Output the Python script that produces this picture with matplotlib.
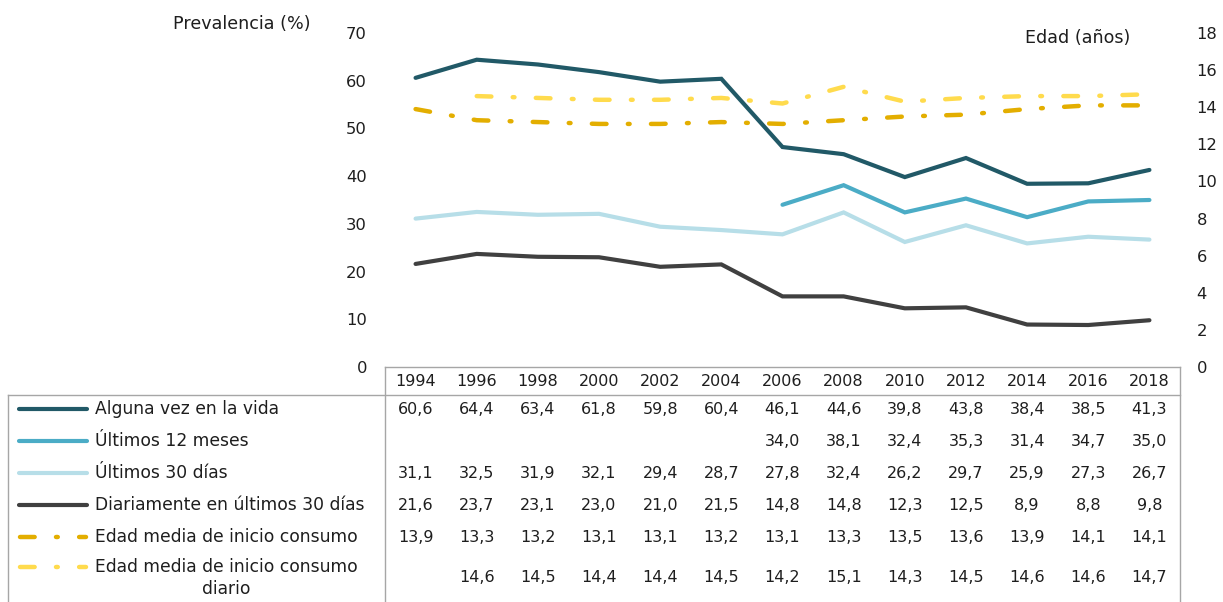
import matplotlib
matplotlib.use('Agg')
import matplotlib.pyplot as plt
import matplotlib.transforms as mtransforms
from matplotlib.lines import Line2D
import numpy as np

plt.rcParams['font.family'] = ['DejaVu Sans']
plt.rcParams['font.size'] = 11.5

years = ['1994', '1996', '1998', '2000', '2002', '2004', '2006',
         '2008', '2010', '2012', '2014', '2016', '2018']

alguna_vez = [60.6, 64.4, 63.4, 61.8, 59.8, 60.4, 46.1, 44.6, 39.8, 43.8, 38.4, 38.5, 41.3]
ultimos_12 = [np.nan] * 6 + [34.0, 38.1, 32.4, 35.3, 31.4, 34.7, 35.0]
ultimos_30 = [31.1, 32.5, 31.9, 32.1, 29.4, 28.7, 27.8, 32.4, 26.2, 29.7, 25.9, 27.3, 26.7]
diariamente = [21.6, 23.7, 23.1, 23.0, 21.0, 21.5, 14.8, 14.8, 12.3, 12.5, 8.9, 8.8, 9.8]
edad_inicio = [13.9, 13.3, 13.2, 13.1, 13.1, 13.2, 13.1, 13.3, 13.5, 13.6, 13.9, 14.1, 14.1]
edad_diario = [np.nan, 14.6, 14.5, 14.4, 14.4, 14.5, 14.2, 15.1, 14.3, 14.5, 14.6, 14.6, 14.7]

labels = ['Alguna vez en la vida', 'Últimos 12 meses', 'Últimos 30 días',
          'Diariamente en últimos 30 días', 'Edad media de inicio consumo',
          'Edad media de inicio consumo\ndiario']
colors = ['#215967', '#4BACC6', '#B7DEE8', '#404040', '#E3AE00', '#FFDB4D']
txt = '#1E1E1E'

W, H = 1223, 602
fig = plt.figure(figsize=(W / 100, H / 100), dpi=100)


def fy(py):
    return 1 - py / H


def fx(px):
    return px / W


left, right, top, bottom = 385, 1180, 33, 367
ax = fig.add_axes([fx(left), fy(bottom), fx(right - left), (bottom - top) / H])
ax2 = ax.twinx()

x = np.arange(len(years)) + 0.5
prev_series = [alguna_vez, ultimos_12, ultimos_30, diariamente]
for vals, c in zip(prev_series, colors[:4]):
    ax.plot(x, vals, color=c, lw=3, solid_capstyle='round', solid_joinstyle='miter')

dash = (3.3, 4.8, 0.4, 4.8)
for vals, c in zip([edad_inicio, edad_diario], colors[4:]):
    ax2.plot(x, vals, color=c, lw=3.2, dashes=dash, dash_capstyle='round')

ax.set_xlim(0, len(years))
ax.set_ylim(0, 70)
ax2.set_ylim(0, 18)
ax.set_yticks(range(0, 71, 10))
ax2.set_yticks(range(0, 19, 2))
ax.set_xticks([])
for a in (ax, ax2):
    for s in a.spines.values():
        s.set_visible(False)
ax.tick_params(axis='y', length=0, pad=13, labelsize=11.8, colors=txt)
ax2.tick_params(axis='y', length=0, pad=12, labelsize=11.8, colors=txt)

fig.text(fx(173), fy(24), 'Prevalencia (%)', ha='left', va='center', color=txt, fontsize=12.6)
fig.text(fx(1025), fy(38), 'Edad (años)', ha='left', va='center', color=txt, fontsize=12.6)

# data table below the plot
trans = mtransforms.blended_transform_factory(ax.transData, fig.transFigure)
grid = '#A6A6A6'
fig.add_artist(Line2D([fx(left), fx(right)], [fy(367), fy(367)], color=grid, lw=1))
fig.add_artist(Line2D([fx(8), fx(right)], [fy(395), fy(395)], color=grid, lw=1))
fig.add_artist(Line2D([fx(left), fx(left)], [fy(367), 0], color=grid, lw=1))
fig.add_artist(Line2D([fx(right), fx(right)], [fy(367), 0], color=grid, lw=1))
fig.add_artist(Line2D([fx(8), fx(8)], [fy(395), 0], color=grid, lw=1))

for xi, yr in zip(x, years):
    ax.text(xi, fy(382), yr, transform=trans, ha='center', va='center',
            color=txt, clip_on=False)

row_y = [409, 441, 473, 505, 537, 578]
all_series = prev_series + [edad_inicio, edad_diario]
for i, (vals, lab, c, ry) in enumerate(zip(all_series, labels, colors, row_y)):
    if i >= 4:
        fig.add_artist(Line2D([fx(20), fx(86)], [fy(ry if i == 4 else 567)] * 2, color=c,
                              lw=3.2, dashes=dash, dash_capstyle='round'))
    else:
        fig.add_artist(Line2D([fx(19), fx(87)], [fy(ry)] * 2, color=c, lw=3,
                              solid_capstyle='round'))
    if i == 5:
        fig.text(fx(95), fy(578), lab, ha='left', va='center', multialignment='center',
                 color=txt, linespacing=1.25, fontsize=12.3)
    else:
        fig.text(fx(95), fy(ry), lab, ha='left', va='center', color=txt, fontsize=12.3)
    for xi, v in zip(x, vals):
        if np.isnan(v):
            continue
        ax.text(xi, fy(ry), f'{v:.1f}'.replace('.', ','), transform=trans,
                ha='center', va='center', color=txt, clip_on=False)

fig.savefig('out.png', dpi=100)
